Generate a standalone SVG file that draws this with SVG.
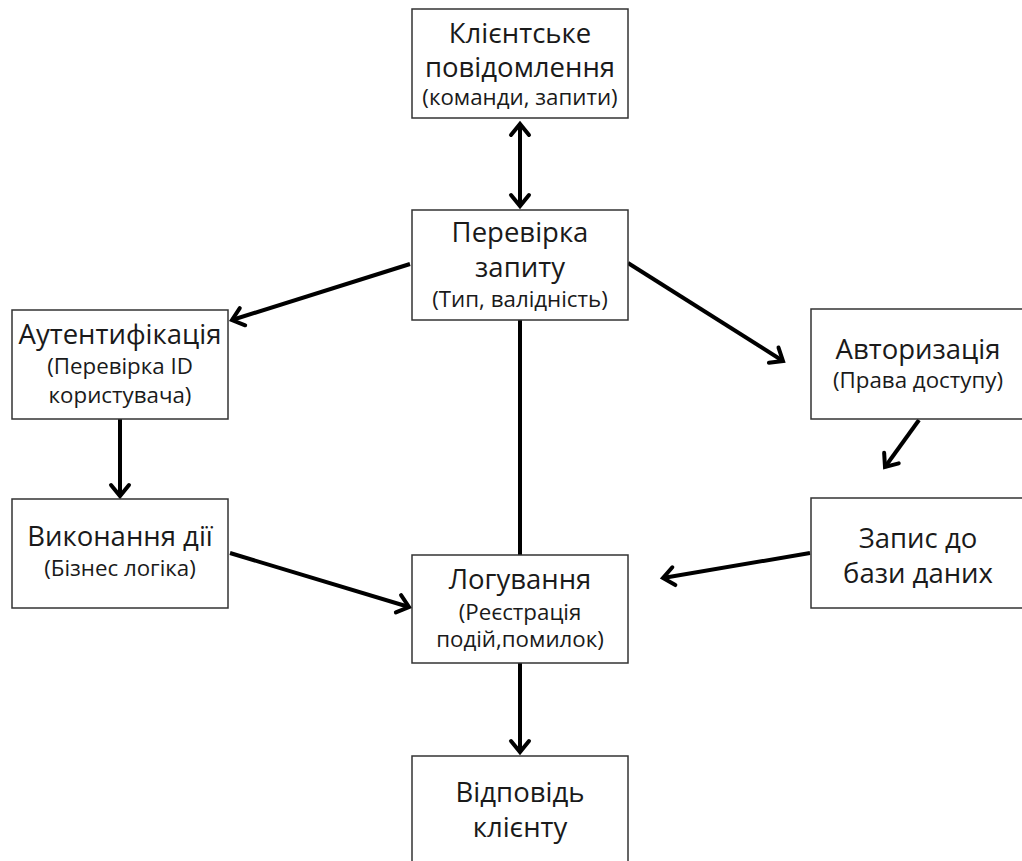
<svg xmlns="http://www.w3.org/2000/svg" width="1022" height="861" viewBox="0 0 1022 861">
<style>
.box{fill:#fff;stroke:#333;stroke-width:1.5}
.t{font-family:"Open Sans","Noto Sans","DejaVu Sans",sans-serif;fill:#1a1a1a;text-anchor:middle}
.l{font-size:27.5px}
.s{font-size:22.3px}
.c{stroke:#000;stroke-width:4;fill:none}
</style>
<defs>
<marker id="ah" markerUnits="userSpaceOnUse" markerWidth="30" markerHeight="30" viewBox="-15 -15 30 30" refX="0" refY="0" orient="auto-start-reverse" overflow="visible">
<path d="M-11,-9 L0,0 L-11,9" fill="none" stroke="#000" stroke-width="4" stroke-linejoin="miter" stroke-linecap="round"/>
</marker>
</defs>
<rect width="1022" height="861" fill="#fff"/>
<g id="connectors">
<line class="c" x1="520" y1="124" x2="520" y2="206" marker-start="url(#ah)" marker-end="url(#ah)"/>
<line class="c" x1="410" y1="264" x2="232" y2="320" marker-end="url(#ah)"/>
<line class="c" x1="628" y1="263" x2="783" y2="361" marker-end="url(#ah)"/>
<line class="c" x1="120" y1="419" x2="120" y2="496" marker-end="url(#ah)"/>
<line class="c" x1="919" y1="420" x2="885" y2="467" marker-end="url(#ah)"/>
<line class="c" x1="230" y1="553" x2="409" y2="607" marker-end="url(#ah)"/>
<line class="c" x1="810" y1="553" x2="663" y2="578" marker-end="url(#ah)"/>
<line class="c" x1="520" y1="320" x2="520" y2="555"/>
<line class="c" x1="520" y1="663" x2="520" y2="752" marker-end="url(#ah)"/>
</g>
<g id="n-client">
<rect class="box" x="412" y="9" width="216" height="109"/>
<text class="t l" x="520" y="43">Клієнтське</text>
<text class="t l" x="520" y="77">повідомлення</text>
<text class="t s" x="520" y="105">(команди, запити)</text>
</g>
<g id="n-check">
<rect class="box" x="412" y="210" width="216" height="110"/>
<text class="t l" x="520" y="242">Перевірка</text>
<text class="t l" x="520" y="277">запиту</text>
<text class="t s" x="520" y="307">(Тип, валідність)</text>
</g>
<g id="n-auth">
<rect class="box" x="12" y="310" width="216" height="109"/>
<text class="t l" x="120" y="344">Аутентифікація</text>
<text class="t s" x="120" y="374">(Перевірка ID</text>
<text class="t s" x="120" y="403">користувача)</text>
</g>
<g id="n-exec">
<rect class="box" x="12" y="499" width="216" height="109"/>
<text class="t l" x="120" y="546">Виконання дії</text>
<text class="t s" x="120" y="576">(Бізнес логіка)</text>
</g>
<g id="n-authz">
<rect class="box" x="811" y="309" width="216" height="110"/>
<text class="t l" x="918" y="359">Авторизація</text>
<text class="t s" x="918" y="388">(Права доступу)</text>
</g>
<g id="n-db">
<rect class="box" x="811" y="498" width="216" height="110"/>
<text class="t l" x="918" y="548">Запис до</text>
<text class="t l" x="918" y="583">бази даних</text>
</g>
<g id="n-log">
<rect class="box" x="412" y="555" width="216" height="108"/>
<text class="t l" x="520" y="589">Логування</text>
<text class="t s" x="520" y="620">(Реєстрація</text>
<text class="t s" x="520" y="647">подій,помилок)</text>
</g>
<g id="n-resp">
<rect class="box" x="412" y="756" width="216" height="120"/>
<text class="t l" x="520" y="802">Відповідь</text>
<text class="t l" x="520" y="837">клієнту</text>
</g>
</svg>
